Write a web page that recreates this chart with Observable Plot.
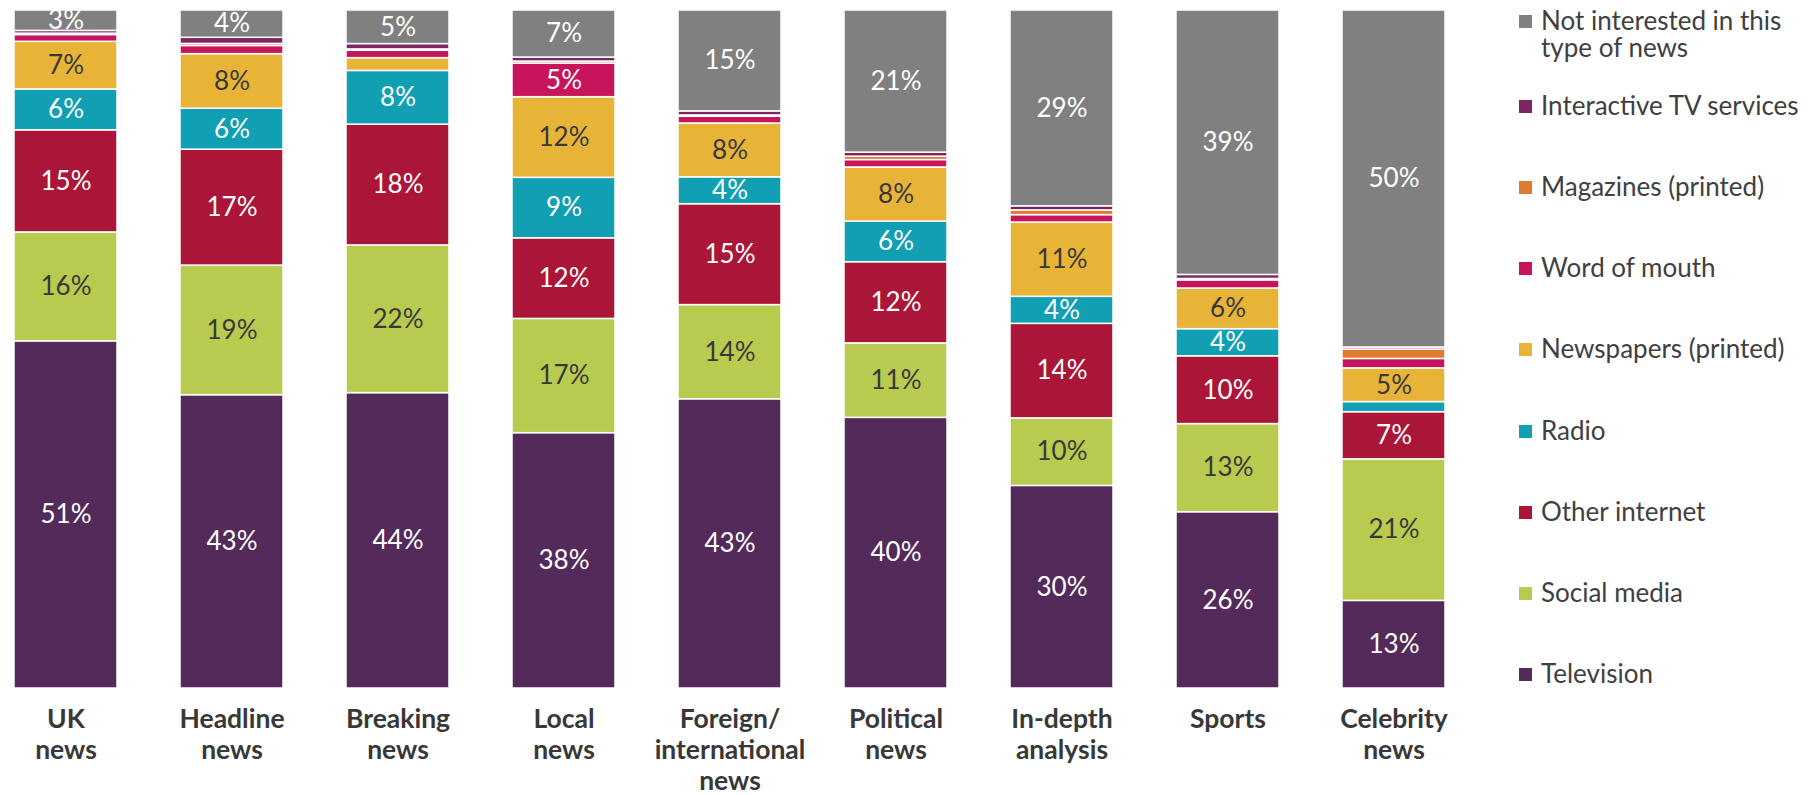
<!DOCTYPE html>
<html>
<head>
<meta charset="utf-8">
<script src="https://cdn.jsdelivr.net/npm/d3@7"></script>
<script src="https://cdn.jsdelivr.net/npm/@observablehq/plot@0.6"></script>
<style>
  html, body { margin: 0; padding: 0; background: #fff; }
  #wrap { position: relative; width: 1808px; height: 795px; font-family: Lato, "Open Sans", sans-serif; }
  #chart { position: absolute; left: 0; top: 0; }
  .leg { position: absolute; left: 1519px; display: flex; align-items: flex-start; color: #404040; font-size: 26px; line-height: 27px; }
  .sw { width: 13px; height: 13px; margin-top: 8px; margin-right: 9px; flex: none; }
</style>
</head>
<body>
<div id="wrap"><div id="chart"></div></div>
<script>
const categories = ["UK news","Headline news","Breaking news","Local news","Foreign/ international news","Political news","In-depth analysis","Sports","Celebrity news"];
const categoryLabels = ["UK\nnews","Headline\nnews","Breaking\nnews","Local\nnews","Foreign/\ninternational\nnews","Political\nnews","In-depth\nanalysis","Sports","Celebrity\nnews"];
const series = ["Television","Social media","Other internet","Radio","Newspapers (printed)","Word of mouth","Magazines (printed)","Interactive TV services","Not interested in this type of news"];
const colors = ["#532A5A","#B8CB4E","#AB1538","#109FB3","#E8B437","#C8145C","#E07A2C","#7E2460","#808080"];

const television   = [51, 43, 44, 38, 43, 40, 30, 26, 13];
const socialMedia  = [16, 19, 22, 17, 14, 11, 10, 13, 21];
const otherInternet= [15, 17, 18, 12, 15, 12, 14, 10, 7];
const radio        = [6, 6, 8, 9, 4, 6, 4, 4, 1.5];
const newspapers   = [7, 8, 1.9, 12, 8, 8, 11, 6, 5];
const wordOfMouth  = [1, 1.2, 1.1, 5, 1, 1.1, 1.1, 1.2, 1.4];
const magazines    = [0.2, 0.3, 0.2, 0.3, 0.2, 0.5, 0.7, 0.2, 1.4];
const interactive  = [0.4, 0.9, 0.8, 0.6, 0.6, 0.6, 0.6, 0.6, 0.3];
const notInterested= [3, 4, 5, 7, 15, 21, 29, 39, 50];

const seriesValues = [television, socialMedia, otherInternet, radio, newspapers, wordOfMouth, magazines, interactive, notInterested];
const darkText = new Set(["Social media","Newspapers (printed)"]);

const data = [];
series.forEach((s, si) => categories.forEach((c, ci) => data.push({category: c, series: s, value: seriesValues[si][ci]})));

const labelMap = new Map(categories.map((c, i) => [c, categoryLabels[i]]));
const fmt = v => `${Math.round(v)}%`;

const stackOpts = {offset: "normalize", order: series};

const chart = Plot.plot({
  width: 1470,
  height: 795,
  marginLeft: 11,
  marginRight: 22,
  marginTop: 10,
  marginBottom: 107,
  style: {fontFamily: "Lato, 'Open Sans', sans-serif", background: "white"},
  x: {domain: categories, paddingInner: 0.38, paddingOuter: 0, axis: null, label: null},
  y: {domain: [0, 1], axis: null},
  color: {domain: series, range: colors},
  marks: [
    Plot.barY(data, Plot.stackY(stackOpts, {x: "category", y: "value", z: "series", fill: "series", stroke: "white", strokeWidth: 1.5})),
    Plot.text(data, Plot.stackY(stackOpts, {x: "category", y: "value", z: "series",
      text: d => (d.value >= 3 && !darkText.has(d.series)) ? fmt(d.value) : null,
      fill: "white", fontSize: 26})),
    Plot.text(data, Plot.stackY(stackOpts, {x: "category", y: "value", z: "series",
      text: d => (d.value >= 3 && darkText.has(d.series)) ? fmt(d.value) : null,
      fill: "#383838", fontSize: 26})),
    Plot.axisX({tickSize: 0, tickPadding: 18, tickFormat: d => labelMap.get(d), label: null, fontSize: 26.5, fontWeight: "bold", lineHeight: 1.16, color: "#383838"})
  ]
});
document.getElementById("chart").appendChild(chart);

// legend (top to bottom = reverse stack order)
const wrap = document.getElementById("wrap");
const legendOrder = series.map((s, i) => i).reverse();
const legendCenters = [20, 105, 186, 267, 348, 430, 511, 592, 673];
legendOrder.forEach((si, k) => {
  const div = document.createElement("div");
  div.className = "leg";
  div.style.top = (legendCenters[k] - 13.5) + "px";
  const sw = document.createElement("div");
  sw.className = "sw";
  sw.style.background = colors[si];
  const tx = document.createElement("div");
  tx.textContent = series[si];
  if (si === series.length - 1) tx.style.width = "262px";
  div.appendChild(sw);
  div.appendChild(tx);
  wrap.appendChild(div);
});
</script>
</body>
</html>
